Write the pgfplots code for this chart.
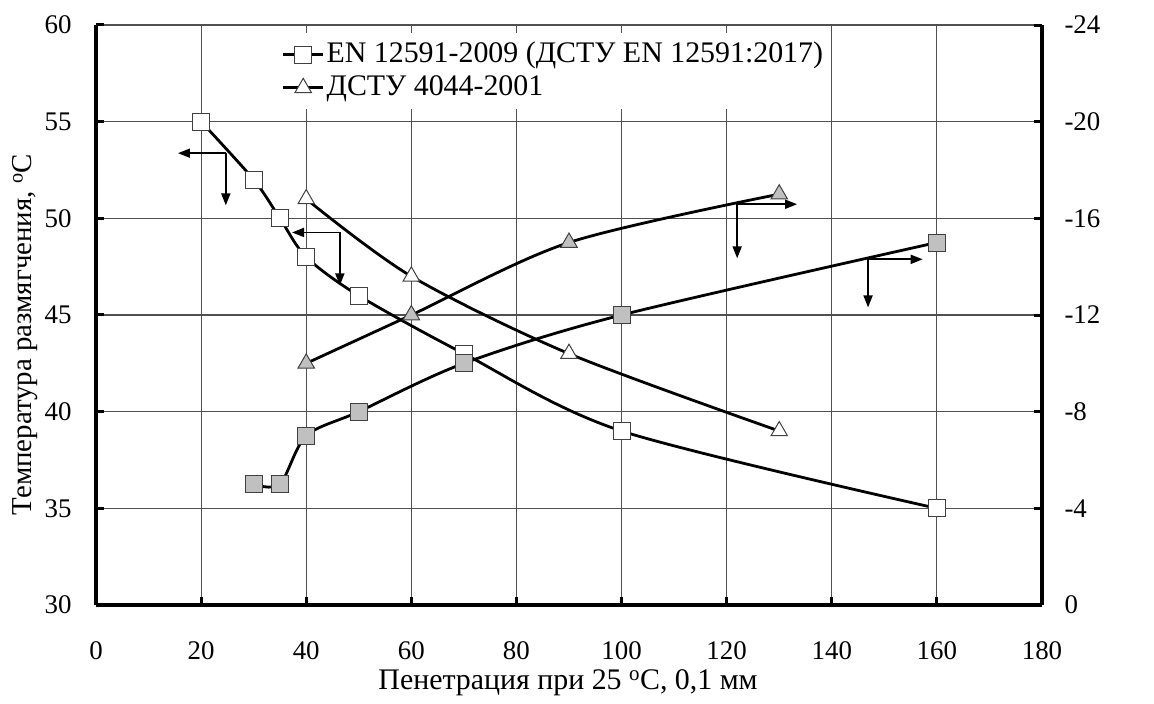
\documentclass[border=0pt]{standalone}
\usepackage{fontspec}
\setmainfont{Liberation Serif}
\usepackage{pgfplots}
\pgfplotsset{compat=1.18}
\usetikzlibrary{arrows.meta}

\definecolor{silver}{HTML}{C0C0C0}
\definecolor{gridgray}{HTML}{505050}
\definecolor{markedge}{HTML}{404040}

\begin{document}
\begin{tikzpicture}
\path[use as bounding box] (-96bp,-99bp) rectangle (1058bp,605bp);

\pgfplotsset{
  panel/.style={
    scale only axis, width=946bp, height=580bp,
    at={(0bp,0bp)}, anchor=south west,
    xmin=0, xmax=180,
    tick align=inside,
    major tick length=8bp,
    major tick style={black, line width=3bp},
    tick label style={font=\fontsize{27}{31}\selectfont},
    /pgf/number format/assume math mode=true,
    axis line style={-, line width=4bp, black},
  },
  curve/.style={black, line width=2.8bp, smooth, tension=0.5},
  sq/.style={mark=square*, mark size=8.5bp, mark options={fill=#1, draw=markedge, line width=1bp}},
  tri/.style={mark=triangle*, mark size=9.5bp, mark options={fill=#1, draw=markedge, line width=1bp}},
  legend image code/.code={
    \draw[#1, mark=none] (0bp,0bp) -- (40bp,0bp);
    \draw[#1, only marks] plot coordinates {(20bp,0bp)};
  },
}

% softening point, left axis
\begin{axis}[panel,
  axis x line*=bottom, axis y line*=left,
  ymin=30, ymax=60,
  xtick={0,20,...,180}, ytick={30,35,...,60},
  grid=major, major grid style={gridgray, line width=1.2bp},
  xticklabel style={yshift=-33bp},
  yticklabel style={xshift=-21bp},
  xlabel={Пенетрация при 25 \textsuperscript{o}C, 0,1 мм},
  xlabel style={at={(axis description cs:0.499,-0.134)}, anchor=center, font=\fontsize{30}{34}\selectfont},
  ylabel={Температура размягчения, \textsuperscript{o}C},
  ylabel style={at={(axis description cs:-0.075,0.466)}, anchor=center, font=\fontsize{29}{33}\selectfont},
  legend style={at={(0.192,0.986)}, anchor=north west, draw=none, fill=white,
    font=\fontsize{30}{34}\selectfont, inner xsep=4bp, inner ysep=5bp,
    nodes={inner ysep=3bp, text height=21bp, text depth=6bp},
    legend cell align=left},
]
\addplot[curve, sq=white] coordinates {
  (20,55) (30,52) (35,50) (40,48) (50,46) (70,43) (100,39) (160,35)
};
\addlegendentry{EN 12591-2009 (ДСТУ EN 12591:2017)}
\addplot[curve, tri=white] coordinates {
  (40,51) (60,47) (90,43) (130,39)
};
\addlegendentry{ДСТУ 4044-2001}

% axis pointers
\begin{scope}[line width=1.8bp, -{Triangle[length=12bp,width=9bp]}]
  \draw (axis cs:24.7,53.37) -- (axis cs:15.6,53.37);
  \draw (axis cs:24.7,53.37) -- (axis cs:24.7,50.67);
  \draw (axis cs:46.4,49.27) -- (axis cs:37.3,49.27);
  \draw (axis cs:46.4,49.27) -- (axis cs:46.4,46.53);
  \draw (axis cs:122,50.73) -- (axis cs:133.4,50.73);
  \draw (axis cs:122,50.73) -- (axis cs:122,47.93);
  \draw (axis cs:146.9,47.88) -- (axis cs:157.3,47.88);
  \draw (axis cs:146.9,47.88) -- (axis cs:146.9,45.39);
\end{scope}

\node[rotate=90, anchor=center, font=\fontsize{29}{33}\selectfont\bfseries]
  at (rel axis cs:1.1025,0.474) {Температура хрупкости, \textsuperscript{o}C};
\end{axis}

% breaking point, right axis
\begin{axis}[panel,
  axis x line=none, axis y line*=right,
  ymin=-24, ymax=0, y dir=reverse,
  ytick={-24,-20,...,0},
  yticklabel style={xshift=19bp},
]
\addplot[curve, sq=silver] coordinates {
  (30,-5) (35,-5) (40,-7) (50,-8) (70,-10) (100,-12) (160,-15)
};
\addplot[curve, tri=silver] coordinates {
  (40,-10) (60,-12) (90,-15) (130,-17)
};
\end{axis}
\end{tikzpicture}
\end{document}
